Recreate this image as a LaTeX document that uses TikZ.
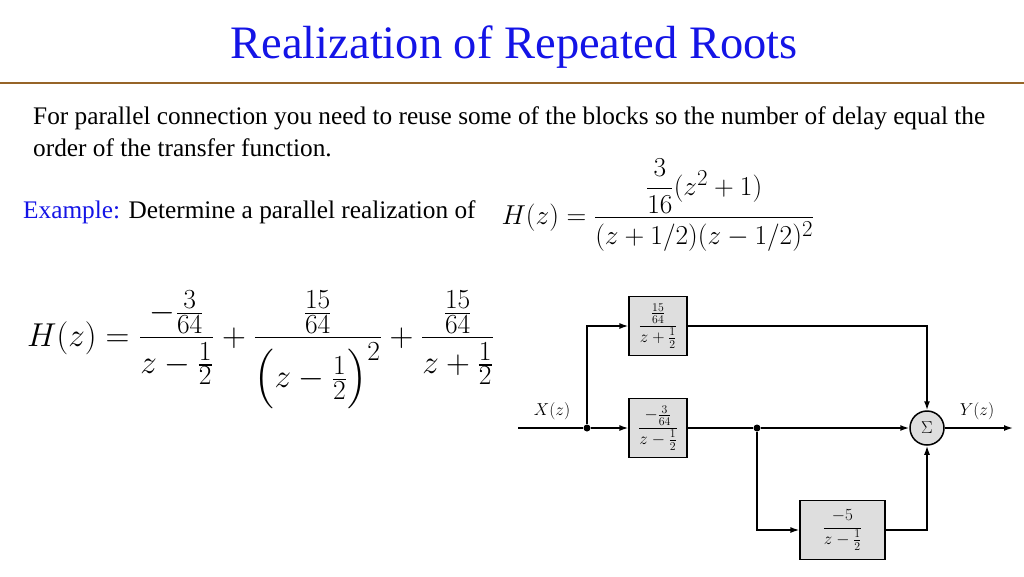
\documentclass[tikz,border=0pt]{standalone}
\usepackage{fontspec}
\setmainfont{Liberation Serif}
\usepackage{amsmath}
\usetikzlibrary{arrows.meta}
\newcommand{\blab}[1]{\scalebox{0.82}{\fontsize{20}{22}\selectfont$#1$}}
\begin{document}
\begin{tikzpicture}[x=1pt,y=-1pt,
  blk/.style={draw,line width=1.2pt,fill=black!13,minimum width=58pt,minimum height=59pt,inner sep=0pt},
  sig/.style={line width=1.5pt,-{Latex[length=9pt,width=6pt]}},
  ln/.style={line width=1.5pt},
  dot/.style={circle,fill=black,inner sep=0pt,minimum size=7pt}]
\useasboundingbox (0,0) rectangle (1024,576);
\node (title) at (514,47) {\fontsize{46.5}{50}\selectfont\color[RGB]{20,20,230}Realization of Repeated Roots};
\draw[line width=2pt,color={rgb,255:red,150;green,100;blue,40}] (0,83) -- (1024,83);
\node[anchor=west,inner sep=0pt] (t1) at (33,118) {\fontsize{25.3}{28}\selectfont For parallel connection you need to reuse some of the blocks so the number of delay equal the};
\node[anchor=west,inner sep=0pt] (t2) at (33,148) {\fontsize{25.3}{28}\selectfont order of the transfer function.};
\node[anchor=west,inner sep=0pt] (ex) at (23,212) {\fontsize{25.3}{28}\selectfont\textcolor[RGB]{20,20,230}{Example:} Determine a parallel realization of};
\node[scale=1.1] (hz) at (658,205) {\fontsize{24.88}{30}\selectfont$H(z)=\dfrac{\dfrac{3}{16}(z^2+1)}{(z+1/2)(z-1/2)^2}$};
\node[scale=1.33] (hp) at (261,350) {\fontsize{24.88}{30}\selectfont$H(z)=\dfrac{-\frac{3}{64}}{z-\frac12}+\dfrac{\frac{15}{64}}{\left(z-\frac12\right)^2}+\dfrac{\frac{15}{64}}{z+\frac12}$};
\node[blk] (b1) at (658,326) {\blab{\dfrac{\frac{15}{64}}{z+\frac12}}};
\node[blk] (b2) at (658,428) {\blab{\dfrac{-\frac{3}{64}}{z-\frac12}}};
\node[blk,minimum width=85pt] (b3) at (842.5,530) {\blab{\dfrac{-5}{z-\frac12}}};
\node[circle,draw,line width=1.5pt,fill=black!13,minimum size=34pt,inner sep=0pt] (s) at (927,428) {\fontsize{17}{18}\selectfont$\Sigma$};
\coordinate (in) at (518,428);
\coordinate (out) at (1013,428);
\node[dot] (d1) at (587,428) {};
\node[dot] (d2) at (757,428) {};
\draw[ln] (in) -- (d1);
\draw[sig] (d1) -- (b2);
\draw[sig] (d1) |- (b1);
\draw[ln] (b2) -- (d2);
\draw[sig] (d2) -- (s);
\draw[sig] (d2) |- (b3);
\draw[sig] (b1) -| (s);
\draw[sig] (b3) -| (s);
\draw[sig] (s) -- (out);
\node (xl) at (552,411) {\fontsize{18}{20}\selectfont$X(z)$};
\node (yl) at (977,411) {\fontsize{18}{20}\selectfont$Y(z)$};
\end{tikzpicture}
\end{document}
